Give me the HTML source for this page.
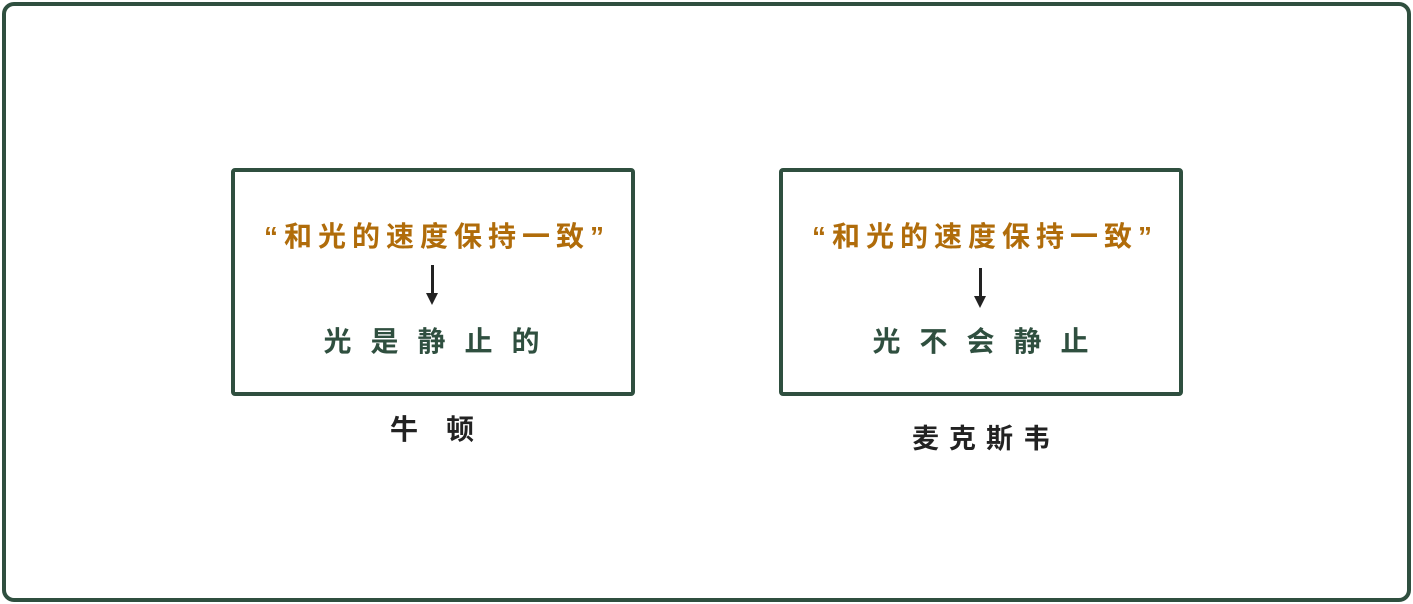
<!DOCTYPE html>
<html><head><meta charset="utf-8"><style>
body{margin:0;width:1413px;height:604px;background:#fff;position:relative;overflow:hidden;font-family:"Liberation Sans","Noto Sans CJK SC",sans-serif;font-weight:bold}
.outer{position:absolute;left:2px;top:2px;width:1401px;height:592px;border:4px solid #2f4f3f;border-radius:12px}
.box{position:absolute;top:168px;width:396px;height:220px;border:4px solid #2f4f3f;border-radius:4px}
.t{position:absolute;white-space:nowrap;transform:translateX(-50%);line-height:1}
.o{color:#b06c0a;font-size:28px;letter-spacing:6px}
.g{color:#2f4f3f;font-size:28px;letter-spacing:19px}
.k{color:#222;font-size:28px}
.arrow{position:absolute;width:3px;background:#222}
.arrow:after{content:"";position:absolute;left:-5px;bottom:-10px;border-left:6.5px solid transparent;border-right:6.5px solid transparent;border-top:12px solid #222}
</style></head><body>
<div class="outer"></div>
<div class="box" style="left:231px"></div>
<div class="box" style="left:779px"></div>
<div class="t o" style="left:437px;top:223px">“和光的速度保持一致”</div>
<div class="arrow" style="left:431px;top:265px;height:30px"></div>
<div class="t g" style="left:441px;top:328px">光是静止的</div>
<div class="t k" style="left:432px;top:416px;letter-spacing:28px;padding-left:28px">牛顿</div>
<div class="t o" style="left:985px;top:223px">“和光的速度保持一致”</div>
<div class="arrow" style="left:979px;top:268px;height:30px"></div>
<div class="t g" style="left:990px;top:328px">光不会静止</div>
<div class="t k" style="left:981px;top:426px;letter-spacing:10px;font-size:27px;padding-left:10px">麦克斯韦</div>
</body></html>
